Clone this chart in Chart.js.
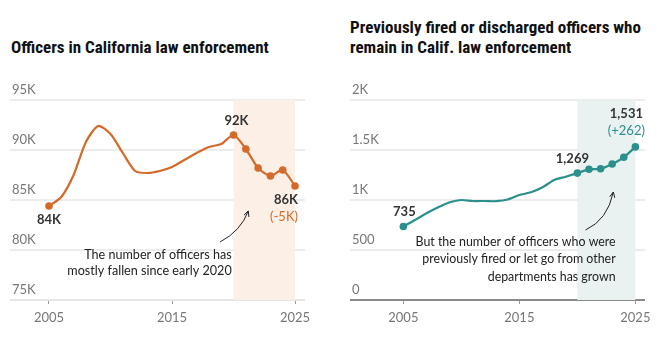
<!DOCTYPE html>
<html>
<head>
<meta charset="utf-8">
<script src="https://cdn.jsdelivr.net/npm/chart.js"></script>
<style>
  body { margin: 0; background: #fff; width: 657px; height: 344px; overflow: hidden; position: relative; }
  .titulo { position: absolute; font-family: "Liberation Sans Narrow", "Roboto Condensed", Roboto, sans-serif; font-weight: bold; font-size: 17px; line-height: 19.5px; color: #111; }
  canvas { position: absolute; left: 0; top: 0; }
</style>
</head>
<body>
<div class="titulo" style="left:11px; top:38px;">Officers in California law enforcement</div>
<div class="titulo" style="left:350px; top:18px;">Previously fired or discharged officers who<br>remain in Calif. law enforcement</div>
<canvas id="graficoA" width="657" height="344"></canvas>
<canvas id="graficoB" width="657" height="344"></canvas>
<script>
const anos = [2005, 2006, 2007, 2008, 2009, 2010, 2011, 2012, 2013, 2014, 2015,
              2016, 2017, 2018, 2019, 2020, 2021, 2022, 2023, 2024, 2025];
// officers, thousands
const oficiais = [84.4, 85.3, 87.5, 90.8, 92.4, 91.6, 89.7, 87.9, 87.7, 87.9, 88.3,
                  89.0, 89.7, 90.3, 90.6, 91.5, 90.1, 88.2, 87.4, 88.0, 86.4];
const demitidos = [735, 800, 867, 927, 977, 1000, 990, 990, 988, 1005, 1050,
                   1077, 1127, 1200, 1233, 1269, 1307, 1313, 1360, 1427, 1531];
const ticksX = [2005, 2015, 2025];
const ticksA = [75, 80, 85, 90, 95];
const ticksB = [0, 500, 1000, 1500, 2000];

const fonte = 'Lato, "Open Sans", sans-serif';
const laranja = '#d46a2a';
const verde = '#2b8f8b';

function marcado(ctx) {
  const ano = anos[ctx.dataIndex];
  return (ano === 2005 || ano >= 2020) ? 3.8 : 0;
}

function seta(c, x1, y1, cx, cy, x2, y2) {
  c.save();
  c.strokeStyle = '#222';
  c.lineWidth = 1;
  c.beginPath();
  c.moveTo(x1, y1);
  c.quadraticCurveTo(cx, cy, x2, y2);
  c.stroke();
  const ang = Math.atan2(y2 - cy, x2 - cx);
  c.beginPath();
  c.moveTo(x2, y2);
  c.lineTo(x2 - 6 * Math.cos(ang - 0.45), y2 - 6 * Math.sin(ang - 0.45));
  c.moveTo(x2, y2);
  c.lineTo(x2 - 6 * Math.cos(ang + 0.45), y2 - 6 * Math.sin(ang + 0.45));
  c.stroke();
  c.restore();
}

function texto(c, t, x, y, cor, peso, alinh, tam) {
  c.save();
  c.font = (peso || 'normal') + ' ' + (tam || 13) + 'px ' + fonte;
  c.fillStyle = cor;
  c.textAlign = alinh || 'center';
  c.textBaseline = 'middle';
  c.fillText(t, x, y);
  c.restore();
}

// sombra de 2020 a 2025
const sombra = {
  id: 'sombra',
  beforeDatasetsDraw(chart, args, opts) {
    const { ctx, chartArea, scales } = chart;
    const x0 = scales.x.getPixelForValue(2020);
    const x1 = scales.x.getPixelForValue(2025);
    ctx.save();
    ctx.fillStyle = opts.cor;
    ctx.fillRect(x0, chartArea.top, x1 - x0, chartArea.bottom - chartArea.top);
    ctx.restore();
  }
};

function opcoes(minX, maxX, minY, maxY, ticksY, rotulo, pad, corSombra, corBase, notas) {
  return {
    responsive: false,
    animation: false,
    layout: { padding: pad },
    plugins: {
      legend: { display: false },
      tooltip: { enabled: false },
      sombra: { cor: corSombra },
      notas: notas
    },
    scales: {
      x: {
        type: 'linear',
        min: minX, max: maxX,
        afterBuildTicks: s => { s.ticks = ticksX.map(v => ({ value: v })); },
        afterFit: s => { s.height = 30; },
        grid: { drawOnChartArea: false, drawTicks: true, tickLength: 4, color: '#999', lineWidth: 1 },
        border: { display: false },
        ticks: { font: { family: fonte, size: 13 }, color: '#777', padding: 6, callback: v => String(v) }
      },
      y: {
        min: minY, max: maxY,
        afterBuildTicks: s => { s.ticks = ticksY.map(v => ({ value: v })); },
        afterFit: s => { s.width = 0; },
        grid: { drawTicks: false, lineWidth: 2, color: c => (c.tick && c.tick.value === minY) ? corBase : '#ececec' },
        border: { display: false },
        ticks: { mirror: true, padding: 2, labelOffset: -10, font: { family: fonte, size: 13 }, color: '#777', callback: rotulo }
      }
    }
  };
}

const notasPlugin = {
  id: 'notas',
  afterDatasetsDraw(chart, args, opts) {
    opts.desenhar(chart);
  }
};

Chart.register(sombra, notasPlugin);

new Chart(document.getElementById('graficoA'), {
  type: 'line',
  data: {
    labels: anos,
    datasets: [{
      data: anos.map((a, i) => ({ x: a, y: oficiais[i] })),
      borderColor: laranja,
      backgroundColor: laranja,
      borderWidth: 2.2,
      tension: 0.25,
      pointRadius: marcado,
      pointBorderWidth: 0
    }]
  },
  options: opcoes(2001.83, 2025.81, 75, 95, ticksA, v => v + 'K',
    { left: 10, right: 352, top: 100, bottom: 14 }, '#fcefe6', '#e6e6e6',
    {
      desenhar(chart) {
        const { ctx, scales } = chart;
        const x = scales.x, y = scales.y;
        const ini = oficiais[0], pico = oficiais[15], fim = oficiais[20];
        texto(ctx, Math.round(ini) + 'K', x.getPixelForValue(2005), y.getPixelForValue(ini) + 14, '#333', 'bold');
        texto(ctx, Math.round(pico) + 'K', x.getPixelForValue(2020) + 3, y.getPixelForValue(pico) - 14, '#333', 'bold');
        texto(ctx, Math.round(fim) + 'K', x.getPixelForValue(2025) - 9, y.getPixelForValue(fim) + 14, '#333', 'bold');
        texto(ctx, '(' + Math.round(fim - pico) + 'K)', x.getPixelForValue(2025) - 11, y.getPixelForValue(fim) + 31, laranja);
        const xr = x.getPixelForValue(2019.85);
        texto(ctx, 'The number of officers has', xr, y.getPixelForValue(79.5), '#222', 'normal', 'right', 12.6);
        texto(ctx, 'mostly fallen since early 2020', xr, y.getPixelForValue(77.9), '#222', 'normal', 'right', 12.6);
        seta(ctx, x.getPixelForValue(2018.9), y.getPixelForValue(80.8),
          x.getPixelForValue(2020.6), y.getPixelForValue(81.9),
          x.getPixelForValue(2021.2), y.getPixelForValue(83.9));
      }
    })
});

new Chart(document.getElementById('graficoB'), {
  type: 'line',
  data: {
    labels: anos,
    datasets: [{
      data: anos.map((a, i) => ({ x: a, y: demitidos[i] })),
      borderColor: verde,
      backgroundColor: verde,
      borderWidth: 2.2,
      tension: 0.25,
      pointRadius: marcado,
      pointBorderWidth: 0
    }]
  },
  options: opcoes(2000.4, 2025.83, 0, 2000, ticksB, v => v >= 1000 ? (v / 1000) + 'K' : String(v),
    { left: 350, right: 12, top: 100, bottom: 14 }, '#e9f1f1', '#8a8a8a',
    {
      desenhar(chart) {
        const { ctx, scales } = chart;
        const x = scales.x, y = scales.y;
        const ini = demitidos[0], meio = demitidos[15], fim = demitidos[20];
        const fmt = n => n.toLocaleString('en-US');
        texto(ctx, fmt(ini), x.getPixelForValue(2005) + 1, y.getPixelForValue(ini) - 15, '#333', 'bold');
        texto(ctx, fmt(meio), x.getPixelForValue(2020) - 5, y.getPixelForValue(meio) - 14, '#333', 'bold');
        texto(ctx, fmt(fim), x.getPixelForValue(2025) - 9, y.getPixelForValue(fim) - 33, '#333', 'bold');
        texto(ctx, '(+' + (fim - meio) + ')', x.getPixelForValue(2025) - 9, y.getPixelForValue(fim) - 16, verde);
        const xr = x.getPixelForValue(2023.3);
        texto(ctx, 'But the number of officers who were', xr, y.getPixelForValue(580), '#222', 'normal', 'right', 12.4);
        texto(ctx, 'previously fired or let go from other', xr, y.getPixelForValue(410), '#222', 'normal', 'right', 12.4);
        texto(ctx, 'departments has grown', xr, y.getPixelForValue(235), '#222', 'normal', 'right', 12.4);
        seta(ctx, x.getPixelForValue(2020.7), y.getPixelForValue(700),
          x.getPixelForValue(2022.6), y.getPixelForValue(800),
          x.getPixelForValue(2023.1), y.getPixelForValue(1080));
      }
    })
});
</script>
</body>
</html>
